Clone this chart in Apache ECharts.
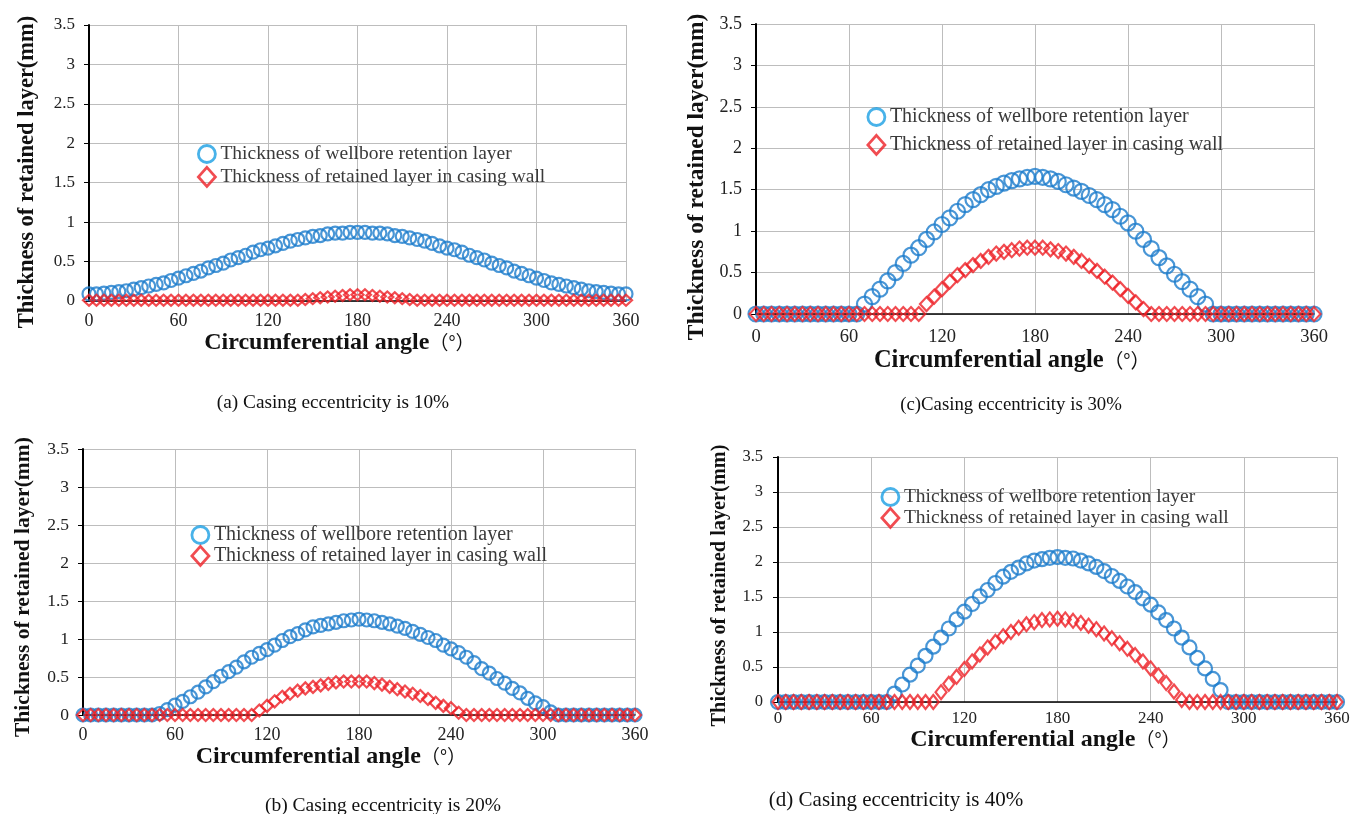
<!DOCTYPE html>
<html>
<head>
<meta charset="utf-8">
<script src="https://cdn.jsdelivr.net/npm/echarts@6/dist/echarts.min.js"></script>
<style>html,body{margin:0;padding:0;background:#fff}#chart{width:1354px;height:814px}</style>
</head>
<body>
<div id="chart"></div>
<script>
// ---------- DATA ----------
const angles = [0,5,10,15,20,25,30,35,40,45,50,55,60,65,70,75,80,85,90,95,100,105,110,115,120,125,130,135,140,145,150,155,160,165,170,175,180,185,190,195,200,205,210,215,220,225,230,235,240,245,250,255,260,265,270,275,280,285,290,295,300,305,310,315,320,325,330,335,340,345,350,355,360];

const seriesNames = ['Thickness of wellbore retention layer', 'Thickness of retained layer in casing wall'];
const xTitle = 'Circumferential angle';
const xUnit = '（°）';
const yTitle = 'Thickness of retained layer(mm)';
const captions = ['(a) Casing eccentricity is 10%', '(b) Casing eccentricity is 20%', '(c)Casing eccentricity is 30%', '(d) Casing eccentricity is 40%'];
const xTicks = [0, 60, 120, 180, 240, 300, 360];
const yTicks = [0, 0.5, 1, 1.5, 2, 2.5, 3, 3.5];

// (a) eccentricity 10%
const wellboreA = [0.09,0.09,0.10,0.11,0.12,0.13,0.15,0.17,0.19,0.21,0.23,0.26,0.29,0.32,0.35,0.38,0.42,0.45,0.48,0.52,0.55,0.58,0.62,0.65,0.67,0.70,0.73,0.76,0.78,0.80,0.82,0.83,0.85,0.86,0.86,0.87,0.87,0.87,0.86,0.86,0.85,0.83,0.82,0.80,0.78,0.76,0.73,0.70,0.67,0.65,0.62,0.58,0.55,0.52,0.48,0.45,0.42,0.38,0.35,0.32,0.29,0.26,0.23,0.21,0.19,0.17,0.15,0.13,0.12,0.11,0.10,0.09,0.09];
const casingA = [0.01,0.01,0.01,0.01,0.01,0.01,0.01,0.01,0.01,0.01,0.01,0.01,0.01,0.01,0.01,0.01,0.01,0.01,0.01,0.01,0.01,0.01,0.01,0.01,0.01,0.01,0.01,0.01,0.01,0.02,0.03,0.04,0.05,0.06,0.07,0.08,0.08,0.08,0.07,0.06,0.05,0.04,0.03,0.02,0.01,0.01,0.01,0.01,0.01,0.01,0.01,0.01,0.01,0.01,0.01,0.01,0.01,0.01,0.01,0.01,0.01,0.01,0.01,0.01,0.01,0.01,0.01,0.01,0.01,0.01,0.01,0.01,0.01];

// (b) eccentricity 20%
const wellboreB = [0,0,0,0,0,0,0,0,0,0,0.02,0.07,0.13,0.18,0.24,0.30,0.37,0.44,0.51,0.57,0.63,0.70,0.76,0.81,0.86,0.92,0.98,1.03,1.07,1.12,1.16,1.18,1.20,1.22,1.24,1.25,1.26,1.25,1.24,1.22,1.20,1.17,1.14,1.10,1.06,1.02,0.98,0.92,0.87,0.82,0.76,0.69,0.61,0.55,0.48,0.42,0.35,0.29,0.22,0.16,0.11,0.04,0,0,0,0,0,0,0,0,0,0,0];
const casingB = [0,0,0,0,0,0,0,0,0,0,0,0,0,0,0,0,0,0,0,0,0,0,0,0.06,0.12,0.18,0.24,0.28,0.32,0.35,0.37,0.39,0.41,0.43,0.44,0.44,0.44,0.44,0.42,0.40,0.37,0.34,0.31,0.28,0.25,0.21,0.16,0.12,0.09,0.03,0,0,0,0,0,0,0,0,0,0,0,0,0,0,0,0,0,0,0,0,0,0,0];

// (c) eccentricity 30%
const wellboreC = [0,0,0,0,0,0,0,0,0,0,0,0,0,0,0.12,0.21,0.30,0.40,0.50,0.61,0.71,0.80,0.90,0.99,1.08,1.16,1.24,1.32,1.38,1.44,1.50,1.54,1.58,1.61,1.63,1.65,1.66,1.65,1.63,1.60,1.56,1.52,1.48,1.43,1.38,1.32,1.26,1.18,1.10,1.00,0.90,0.79,0.68,0.58,0.48,0.39,0.30,0.21,0.12,0,0,0,0,0,0,0,0,0,0,0,0,0,0];
const casingC = [0,0,0,0,0,0,0,0,0,0,0,0,0,0,0,0,0,0,0,0,0,0,0.12,0.21,0.30,0.39,0.47,0.53,0.59,0.64,0.69,0.73,0.75,0.77,0.79,0.80,0.80,0.80,0.78,0.76,0.73,0.69,0.64,0.58,0.52,0.45,0.38,0.30,0.22,0.14,0.06,0,0,0,0,0,0,0,0,0,0,0,0,0,0,0,0,0,0,0,0,0,0];

// (d) eccentricity 40%
const wellboreD = [0,0,0,0,0,0,0,0,0,0,0,0,0,0,0,0.12,0.25,0.39,0.52,0.66,0.79,0.92,1.05,1.18,1.29,1.40,1.51,1.60,1.70,1.79,1.86,1.92,1.98,2.02,2.04,2.06,2.07,2.06,2.05,2.02,1.98,1.93,1.87,1.80,1.73,1.65,1.57,1.48,1.39,1.28,1.17,1.05,0.92,0.78,0.63,0.48,0.33,0.17,0,0,0,0,0,0,0,0,0,0,0,0,0,0,0];
const casingD = [0,0,0,0,0,0,0,0,0,0,0,0,0,0,0,0,0,0,0,0,0,0.14,0.26,0.36,0.47,0.58,0.68,0.78,0.86,0.94,1.00,1.06,1.11,1.14,1.17,1.18,1.19,1.18,1.16,1.13,1.09,1.04,0.98,0.91,0.84,0.76,0.67,0.58,0.48,0.38,0.27,0.15,0.03,0,0,0,0,0,0,0,0,0,0,0,0,0,0,0,0,0,0,0,0];

// ---------- STYLE / LAYOUT ----------
const SERIF = "'Liberation Serif','Times New Roman',serif";
const CJK = "'Noto Sans CJK SC',sans-serif";
const BLUE = '#1c7ccc';
const LEG_BLUE = '#1a9fe4';
const RED = '#ee1f26';

const panels = [
  { caption: captions[0], data: [wellboreA, casingA],
    grid: {left: 89, top: 25, width: 537, height: 276},
    yFont: 17, xFont: 18, yMargin: 14, xMargin: 11,
    yNameSize: 22.5, yNameGap: 50, yNameShift: 18,
    xNameSize: 24, xNameGap: 29, xNameShift: 36,
    legend: {left: 197, top: 144, gap: 2, font: 19.5},
    circle: 13, diamond: [12, 11], cap: {x: 333, y: 403, size: 19.3} },
  { caption: captions[1], data: [wellboreB, casingB],
    grid: {left: 83, top: 449, width: 552, height: 266},
    yFont: 17.5, xFont: 18, yMargin: 14, xMargin: 11,
    yNameSize: 21.6, yNameGap: 49, yNameShift: 10,
    xNameSize: 24, xNameGap: 25, xNameShift: 56,
    legend: {left: 190.5, top: 525, gap: 0, font: 20},
    circle: 13, diamond: [12, 12], cap: {x: 383, y: 806, size: 19.5} },
  { caption: captions[2], data: [wellboreC, casingC],
    grid: {left: 756, top: 24, width: 558, height: 290},
    yFont: 18, xFont: 18.5, yMargin: 14, xMargin: 14,
    yNameSize: 23.5, yNameGap: 47, yNameShift: 16,
    xNameSize: 24.5, xNameGap: 33, xNameShift: 46,
    legend: {left: 866.5, top: 107, gap: 7, font: 20},
    circle: 15, diamond: [13, 14], cap: {x: 1011, y: 405, size: 18.8} },
  { caption: captions[3], data: [wellboreD, casingD],
    grid: {left: 778, top: 457, width: 559, height: 245},
    yFont: 16.5, xFont: 17, yMargin: 15, xMargin: 8,
    yNameSize: 20.3, yNameGap: 48, yNameShift: 12,
    xNameSize: 24, xNameGap: 24, xNameShift: 24,
    legend: {left: 880.5, top: 487, gap: 0, font: 19.5},
    circle: 14, diamond: [11, 14], cap: {x: 896, y: 800, size: 21} }
];

const option = {
  animation: false,
  backgroundColor: '#ffffff',
  grid: [], xAxis: [], yAxis: [], series: [], legend: [], graphic: []
};

panels.forEach((p, i) => {
  option.grid.push(Object.assign({containLabel: false, outerBoundsMode: 'none'}, p.grid));
  option.xAxis.push({
    type: 'value', gridIndex: i, min: xTicks[0], max: xTicks[xTicks.length - 1], interval: xTicks[1] - xTicks[0],
    name: '{b|' + xTitle + '}{u|' + xUnit + '}', nameLocation: 'middle', nameGap: p.xNameGap,
    nameTextStyle: {
      padding: [0, p.xNameShift, 0, 0],
      rich: {
        b: {fontFamily: SERIF, fontWeight: 'bold', fontSize: p.xNameSize, color: '#111', lineHeight: p.xNameSize},
        u: {fontFamily: CJK, fontSize: p.xNameSize * 0.8, color: '#111', lineHeight: p.xNameSize}
      }
    },
    axisLine: {show: true, onZero: true, lineStyle: {color: '#000', width: 1.5}},
    axisTick: {show: false},
    axisLabel: {fontFamily: SERIF, fontSize: p.xFont, color: '#222', margin: p.xMargin},
    splitLine: {show: true, lineStyle: {color: '#bdbdbd', width: 1}}
  });
  option.yAxis.push({
    type: 'value', gridIndex: i, min: yTicks[0], max: yTicks[yTicks.length - 1], interval: yTicks[1] - yTicks[0],
    name: yTitle, nameLocation: 'middle', nameRotate: 90, nameGap: p.yNameGap,
    nameTextStyle: {fontFamily: SERIF, fontWeight: 'bold', fontSize: p.yNameSize, color: '#111', padding: [0, p.yNameShift, 0, 0]},
    axisLine: {show: true, lineStyle: {color: '#000', width: 2}},
    axisTick: {show: true, inside: false, length: 5, lineStyle: {color: '#000', width: 1}},
    axisLabel: {fontFamily: SERIF, fontSize: p.yFont, color: '#222', margin: p.yMargin},
    splitLine: {show: true, lineStyle: {color: '#bdbdbd', width: 1}}
  });
  option.series.push({
    type: 'scatter', name: seriesNames[0], xAxisIndex: i, yAxisIndex: i, z: 2, silent: true,
    symbol: 'circle', symbolSize: p.circle,
    itemStyle: {color: 'rgba(255,255,255,0)', borderColor: BLUE, borderWidth: 2.2},
    data: angles.map((a, k) => [a, p.data[0][k]])
  });
  option.series.push({
    type: 'scatter', name: seriesNames[1], xAxisIndex: i, yAxisIndex: i, z: 3, silent: true,
    symbol: 'diamond', symbolSize: p.diamond,
    itemStyle: {color: 'rgba(255,255,255,0)', borderColor: RED, borderWidth: 2.2},
    data: angles.map((a, k) => [a, p.data[1][k]])
  });
  option.legend.push({
    orient: 'vertical', left: p.legend.left, top: p.legend.top, itemGap: p.legend.gap,
    itemWidth: 17, itemHeight: 19, selectedMode: false, padding: 0,
    textStyle: {fontFamily: SERIF, fontSize: p.legend.font, color: '#3a3a3a', lineHeight: 20},
    data: [
      {name: seriesNames[0], icon: 'circle', itemStyle: {color: 'rgba(255,255,255,0)', borderColor: LEG_BLUE, borderWidth: 2.8}},
      {name: seriesNames[1], icon: 'diamond', itemStyle: {color: 'rgba(255,255,255,0)', borderColor: RED, borderWidth: 2.8}}
    ]
  });
  option.graphic.push({
    type: 'text', x: p.cap.x, y: p.cap.y, silent: true,
    style: {text: p.caption, fontFamily: SERIF, fontSize: p.cap.size, fill: '#111', align: 'center', verticalAlign: 'middle'}
  });
});

const chart = echarts.init(document.getElementById('chart'), null, {renderer: 'canvas'});
chart.setOption(option);
</script>
</body>
</html>
